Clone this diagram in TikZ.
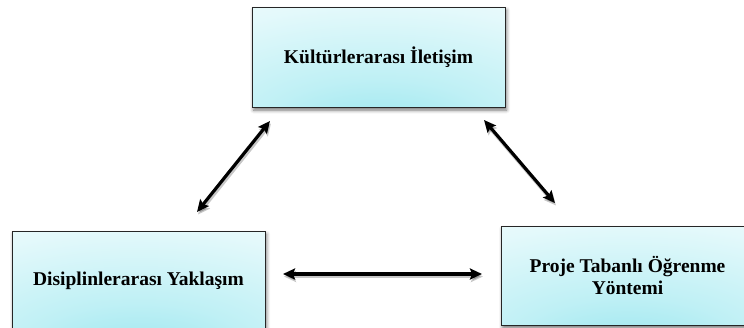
\documentclass[tikz,border=0pt]{standalone}
\usepackage{fontspec}
\setmainfont{Liberation Serif}
\usetikzlibrary{arrows.meta,shadows.blur}
\definecolor{cyanA}{HTML}{94E5EE}
\definecolor{cyanB}{HTML}{BFF0F5}
\definecolor{cyanC}{HTML}{E4F9FB}
\pgfdeclareradialshading{boxshade}{\pgfpoint{0bp}{-42bp}}{color(0bp)=(cyanA); color(22bp)=(cyanB); color(48bp)=(cyanC); color(75bp)=(white); color(100bp)=(white)}
\tikzset{
 topic/.style={draw=black!85, line width=0.9pt, shade, shading=boxshade,
   minimum width=253pt, minimum height=100pt, inner sep=0pt,
   font=\fontsize{19.5}{22}\selectfont\bfseries, align=center,
   blur shadow={shadow xshift=1.5pt, shadow yshift=-3pt, shadow blur radius=3.5pt, shadow opacity=55}},
 link/.style={line width=3.2pt, {Stealth[length=12pt,width=11pt,inset=2pt]}-{Stealth[length=12pt,width=11pt,inset=2pt]}},
 linkshadow/.style={link, draw=black, opacity=0.22, transform canvas={xshift=1pt,yshift=-2.5pt}}
}
\begin{document}
\begin{tikzpicture}[x=1pt,y=-1pt]
\useasboundingbox (0,0) rectangle (744,327);
\node[topic] (kult) at (378.5,57) {Kültürlerarası İletişim};
\node[topic] (disi) at (138.5,281) {Disiplinlerarası Yaklaşım};
\node[topic, minimum height=99pt] (proj) at (627.5,275.5) {Proje Tabanlı Öğrenme\\Yöntemi};
\coordinate (a1) at (270,121);
\coordinate (a2) at (197,212);
\coordinate (b1) at (283,274);
\coordinate (b2) at (482,274);
\coordinate (c1) at (484,120);
\coordinate (c2) at (555,203);
\draw[linkshadow] (a1) -- (a2);
\draw[linkshadow] (b1) -- (b2);
\draw[linkshadow] (c1) -- (c2);
\draw[link] (a1) -- (a2);
\draw[link] (b1) -- (b2);
\draw[link] (c1) -- (c2);
\end{tikzpicture}
\end{document}
